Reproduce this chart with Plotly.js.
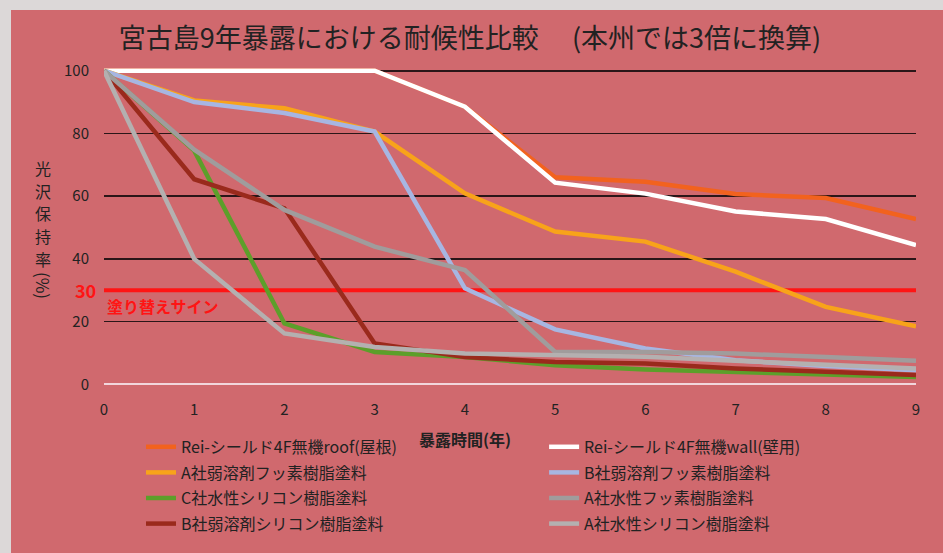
<!DOCTYPE html>
<html>
<head>
<meta charset="utf-8">
<script src="https://cdn.plot.ly/plotly-3.0.1.min.js"></script>
<style>
  html, body { margin: 0; padding: 0; background: #dcd8d8; width: 943px; height: 553px; overflow: hidden; }
  #chart { position: absolute; left: 11px; top: 10px; width: 932px; height: 543px; }
</style>
</head>
<body>
<div id="chart"></div>
<script>
// ---- data ----
const years = [0, 1, 2, 3, 4, 5, 6, 7, 8, 9];

const seriesNames = [
  'Rei-シールド4F無機roof(屋根)',
  'Rei-シールド4F無機wall(壁用)',
  'A社弱溶剤フッ素樹脂塗料',
  'B社弱溶剤フッ素樹脂塗料',
  'C社水性シリコン樹脂塗料',
  'A社水性フッ素樹脂塗料',
  'B社弱溶剤シリコン樹脂塗料',
  'A社水性シリコン樹脂塗料'
];

const reiRoof      = [100, 100, 100, 100, 88.5, 66, 64.6, 60.7, 59.4, 52.7];
const reiWall      = [100, 100, 100, 100, 88.5, 64.3, 60.8, 55.1, 52.7, 44.4];
const aSolventFluo = [100, 90.5, 88, 80.6, 60.9, 48.7, 45.5, 35.9, 24.7, 18.5];
const bSolventFluo = [100, 90, 86.5, 80.6, 30.6, 17.5, 11.4, 7.7, 5.8, 4.5];
const cWaterSil    = [100, 74.5, 19.4, 10.3, 8.7, 6.1, 4.7, 3.9, 3.2, 2.3];
const aWaterFluo   = [100, 74.8, 55.6, 43.9, 36.4, 10.3, 10.3, 9.8, 8.7, 7.5];
const bSolventSil  = [100, 65.4, 56.1, 13, 8.7, 7.1, 6.6, 5, 4, 3];
const aWaterSil    = [100, 40, 16.2, 11.9, 9.8, 9.3, 8.8, 7.5, 6.2, 5];

const repaintLevel = 30;
const repaintLabel = '塗り替えサイン';
const yTicks = [0, 20, 40, 60, 80, 100];

const titleText = '宮古島9年暴露における耐候性比較\u3000 (本州では3倍に換算)';
const xTitle = '暴露時間(年)';
const yTitleChars = ['光', '沢', '保', '持', '率'];
const yTitleUnit = '(%)';

// ---- styles ----
const FONT = '"Noto Sans CJK JP", "Noto Sans", sans-serif';
// legend: which column (legend / legend2) and rank within it; order = drawing order
const styles = [
  { color: '#f2621e', width: 4.5, legend: 'legend',  rank: 1, order: 0 },
  { color: '#ffffff', width: 4.5, legend: 'legend2', rank: 1, order: 1 },
  { color: '#f8a31a', width: 4.5, legend: 'legend',  rank: 2, order: 2 },
  { color: '#a7b6e2', width: 4.5, legend: 'legend2', rank: 2, order: 3 },
  { color: '#5c9f2a', width: 4.5, legend: 'legend',  rank: 3, order: 4 },
  { color: '#a09c9c', width: 4.5, legend: 'legend2', rank: 3, order: 6 },
  { color: '#9a2a1c', width: 4.5, legend: 'legend',  rank: 4, order: 5 },
  { color: '#b4b0b0', width: 4.5, legend: 'legend2', rank: 4, order: 7 }
];
const values = [reiRoof, reiWall, aSolventFluo, bSolventFluo, cWaterSil, aWaterFluo, bSolventSil, aWaterSil];

const traces = values.map((v, i) => ({
  type: 'scatter',
  mode: 'lines',
  x: years,
  y: v,
  name: seriesNames[i],
  line: { color: styles[i].color, width: styles[i].width },
  legend: styles[i].legend,
  legendgroup: 'g' + i,
  legendrank: styles[i].rank,
  hoverinfo: 'x+y+name',
  _order: styles[i].order
}));
traces.sort((a, b) => a._order - b._order);
traces.forEach(t => delete t._order);

// vertical y-axis title: one annotation per character (paper units)
const yTitleY = [0.683, 0.613, 0.5434, 0.4736, 0.4038];
const yTitleAnns = yTitleChars.map((c, i) => ({
  xref: 'paper', x: -0.075, yref: 'paper', y: yTitleY[i],
  text: c, showarrow: false, xanchor: 'center', yanchor: 'middle',
  font: { family: FONT, size: 16, color: '#222' }
}));
yTitleAnns.push({
  xref: 'paper', x: -0.075, yref: 'paper', y: 0.322,
  text: yTitleUnit, showarrow: false,
  xanchor: 'center', yanchor: 'middle', textangle: 90,
  font: { family: FONT, size: 17, color: '#222' }
});

const legendCommon = {
  orientation: 'v',
  xanchor: 'left',
  yanchor: 'top',
  bgcolor: 'rgba(0,0,0,0)',
  traceorder: 'grouped',
  tracegroupgap: 1.8,
  font: { family: FONT, size: 16, color: '#222' }
};

const layout = {
  width: 932,
  height: 543,
  paper_bgcolor: '#d0696e',
  plot_bgcolor: 'rgba(0,0,0,0)',
  margin: { l: 93, r: 27, t: 56, b: 164, autoexpand: false },
  font: { family: FONT, color: '#222', size: 15 },
  title: {
    text: titleText,
    font: { family: FONT, size: 27, color: '#222' },
    x: 0.4925, xanchor: 'center',
    y: 0.947, yanchor: 'middle', xref: 'container', yref: 'container'
  },
  xaxis: {
    range: [0, 9],
    tickvals: years,
    showgrid: false,
    zeroline: false,
    showline: false,
    ticks: '',
    ticklabelstandoff: 10,
    tickfont: { family: FONT, size: 15, color: '#222' },
    fixedrange: true
  },
  yaxis: {
    range: [-1.5, 101.5],
    tickvals: yTicks,
    showgrid: true,
    gridcolor: '#2a1618',
    gridwidth: 1.6,
    zeroline: true,
    zerolinecolor: '#f2d6dc',
    zerolinewidth: 1.6,
    showline: false,
    ticks: '',
    ticklabelstandoff: 14,
    tickfont: { family: FONT, size: 15, color: '#222' },
    fixedrange: true
  },
  shapes: [{
    type: 'line', xref: 'paper', x0: 0, x1: 1,
    yref: 'y', y0: repaintLevel, y1: repaintLevel,
    line: { color: '#ff1414', width: 4 },
    layer: 'below'
  }],
  annotations: [
    {
      xref: 'paper', x: 0, yref: 'y', y: repaintLevel,
      text: '<b>' + repaintLevel + '</b>', showarrow: false,
      xanchor: 'right', yanchor: 'middle', xshift: -6,
      font: { family: FONT, size: 18, color: '#ff1414' }
    },
    {
      xref: 'paper', x: 0, yref: 'y', y: repaintLevel,
      text: '<b>' + repaintLabel + '</b>', showarrow: false,
      xanchor: 'left', yanchor: 'top', xshift: 1, yshift: -2,
      font: { family: FONT, size: 16, color: '#ff1414' }
    },
    {
      xref: 'x', x: 4, yref: 'paper', y: 0,
      text: '<b>' + xTitle + '</b>', showarrow: false,
      xanchor: 'center', yanchor: 'top', yshift: -36,
      font: { family: FONT, size: 16, color: '#222' }
    }
  ].concat(yTitleAnns),
  showlegend: true,
  legend: Object.assign({ x: 0.0456, y: -0.1266 }, legendCommon),
  legend2: Object.assign({ x: 0.542, y: -0.1266 }, legendCommon)
};

Plotly.newPlot('chart', traces, layout, { displayModeBar: false, staticPlot: true });
</script>
</body>
</html>
